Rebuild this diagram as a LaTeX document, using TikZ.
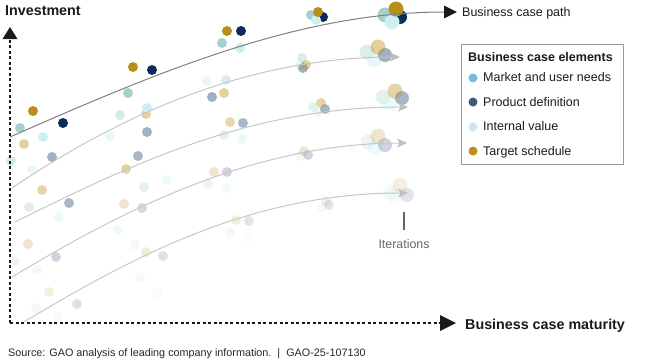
\documentclass[tikz,border=0pt]{standalone}
\usepackage{fontspec}
\setmainfont{Liberation Sans}
\usetikzlibrary{arrows.meta}
\definecolor{gold}{RGB}{186,142,26}
\definecolor{navy}{RGB}{12,44,94}
\definecolor{teal}{RGB}{163,209,207}
\definecolor{cyan}{RGB}{205,239,242}
\definecolor{mkt}{RGB}{116,188,228}
\definecolor{prod}{RGB}{62,91,115}
\definecolor{intv}{RGB}{201,228,243}
\definecolor{tgt}{RGB}{188,144,22}
\definecolor{ink}{RGB}{26,26,26}
\newcommand\mydot[5]{\fill[#1,fill opacity=#2] (#3,#4) circle (#5pt);}
\begin{document}
\begin{tikzpicture}[x=1pt,y=-1pt,
  mainpath/.style={draw=black!50,line width=1pt,-{Triangle[length=13pt,width=12.5pt,color=ink]}},
  iterpath/.style={draw=black!22,line width=1pt,-{Stealth[length=10pt,width=9pt,inset=2.5pt,color=black!25]}},
  axis/.style={draw=ink,line width=2pt,dash pattern=on 3pt off 2.5pt},
  axtip/.style={fill=ink},
  lbl/.style={inner sep=0pt,anchor=base west,text=ink},
  boldlbl/.style={lbl,font=\fontsize{14.3}{17}\selectfont\bfseries},
  leglbl/.style={lbl,font=\fontsize{12.5}{15}\selectfont},
  legbox/.style={draw=black!40,line width=1pt,inner sep=0pt,minimum width=162pt,minimum height=120pt,anchor=north west}
]
\useasboundingbox (0,0) rectangle (650,360);

% ---- row 5 (faintest)
\mydot{teal}{0.14}{36}{308}{5}
\mydot{cyan}{0.2}{58}{317}{5}
\mydot{gold}{0.14}{49}{292}{5}
\mydot{navy}{0.14}{77}{304}{5}
\mydot{cyan}{0.25}{135}{245}{5}
\mydot{teal}{0.14}{140}{277}{5}
\mydot{gold}{0.16}{146}{252}{5}
\mydot{navy}{0.14}{163}{256}{5}
\mydot{cyan}{0.2}{157}{293}{5}
\mydot{teal}{0.14}{230}{233}{5}
\mydot{cyan}{0.2}{248}{237}{5}
\mydot{gold}{0.14}{236}{220}{5}
\mydot{navy}{0.12}{249}{221}{5}
\mydot{cyan}{0.25}{322}{207}{5}
\mydot{navy}{0.12}{329}{205}{5}
\mydot{gold}{0.14}{326}{201}{5}
\mydot{teal}{0.14}{390}{192}{7.5}
\mydot{cyan}{0.2}{395}{197}{7.5}
\mydot{navy}{0.12}{407}{195}{7}
\mydot{gold}{0.14}{400}{185}{7.5}

% ---- row 4
\mydot{teal}{0.22}{15}{261}{5}
\mydot{cyan}{0.3}{37}{270}{5}
\mydot{gold}{0.22}{28}{244}{5}
\mydot{navy}{0.2}{56}{257}{5}
\mydot{cyan}{0.3}{118}{230}{5}
\mydot{gold}{0.22}{124}{204}{5}
\mydot{navy}{0.18}{142}{208}{5}
\mydot{teal}{0.22}{208}{184}{5}
\mydot{cyan}{0.3}{227}{188}{5}
\mydot{gold}{0.22}{214}{172}{5}
\mydot{navy}{0.2}{227}{172}{5}
\mydot{cyan}{0.3}{300}{156}{5}
\mydot{navy}{0.2}{308}{155}{5}
\mydot{gold}{0.22}{304}{151}{5}
\mydot{teal}{0.22}{368}{142}{7.5}
\mydot{cyan}{0.3}{375}{148}{7.5}
\mydot{navy}{0.2}{385}{145}{7}
\mydot{gold}{0.22}{378}{136}{7.5}

% ---- row 3
\mydot{teal}{0.35}{29}{207}{5}
\mydot{cyan}{0.4}{59}{217}{5}
\mydot{gold}{0.38}{42}{190}{5}
\mydot{navy}{0.35}{69}{203}{5}
\mydot{teal}{0.3}{144}{187}{5}
\mydot{cyan}{0.35}{167}{180}{5}
\mydot{gold}{0.4}{126}{169}{5}
\mydot{navy}{0.35}{138}{156}{5}
\mydot{teal}{0.3}{224}{135}{5}
\mydot{cyan}{0.4}{242}{139}{5}
\mydot{gold}{0.35}{230}{122}{5}
\mydot{navy}{0.35}{243}{123}{5}
\mydot{teal}{0.3}{313}{107}{5}
\mydot{cyan}{0.4}{318}{112}{5}
\mydot{navy}{0.35}{325}{109}{5}
\mydot{gold}{0.38}{321}{103}{5}
\mydot{teal}{0.3}{383}{97}{7.5}
\mydot{cyan}{0.4}{390}{103}{7.5}
\mydot{navy}{0.35}{402}{98}{7}
\mydot{gold}{0.38}{395}{91}{7.5}

% ---- row 2
\mydot{teal}{0.45}{11}{161}{5}
\mydot{cyan}{0.45}{32}{170}{5}
\mydot{gold}{0.42}{24}{144}{5}
\mydot{navy}{0.38}{52}{157}{5}
\mydot{teal}{0.45}{120}{115}{5}
\mydot{cyan}{0.45}{110}{136}{5}
\mydot{gold}{0.42}{146}{114}{5}
\mydot{navy}{0.38}{147}{132}{5}
\mydot{cyan}{0.45}{207}{81}{5}
\mydot{teal}{0.4}{226}{80}{5}
\mydot{navy}{0.38}{212}{97}{5}
\mydot{gold}{0.42}{224}{93}{5}
\mydot{teal}{0.4}{302}{58}{5}
\mydot{cyan}{0.45}{300}{65}{5}
\mydot{navy}{0.38}{303}{68}{5}
\mydot{gold}{0.42}{306}{65}{5}
\mydot{teal}{0.4}{367}{52}{7.5}
\mydot{cyan}{0.45}{374}{60}{7.5}
\mydot{navy}{0.38}{385}{55}{7}
\mydot{gold}{0.42}{378}{47}{7.5}

% ---- row 1 (main path)
\mydot{teal}{1}{20}{128}{5}
\mydot{cyan}{1}{43}{137}{5}
\mydot{gold}{1}{33}{111}{5}
\mydot{navy}{1}{63}{123}{5}
\mydot{teal}{1}{128}{93}{5}
\mydot{cyan}{1}{147}{108}{5}
\mydot{gold}{1}{133}{67}{5}
\mydot{navy}{1}{152}{70}{5}
\mydot{teal}{1}{222}{43}{5}
\mydot{cyan}{1}{240}{48}{5}
\mydot{gold}{1}{227}{31}{5}
\mydot{navy}{1}{241}{31}{5}
\mydot{teal}{1}{311}{15}{5}
\mydot{navy}{1}{323}{17}{5}
\mydot{cyan}{1}{316}{20}{5}
\mydot{gold}{1}{318}{12}{5}
\mydot{teal}{1}{385}{15}{7.5}
\mydot{navy}{1}{400}{17}{7}
\mydot{cyan}{1}{392}{22}{7.5}
\mydot{gold}{1}{396}{9}{7.5}

% ---- iteration curves
\coordinate (c2s) at (12,188);  \coordinate (c2e) at (400,57);
\coordinate (c3s) at (15,222);  \coordinate (c3e) at (408,107);
\coordinate (c4s) at (12,277);  \coordinate (c4e) at (407,143);
\coordinate (c5s) at (22,323);  \coordinate (c5e) at (408,193);
\draw[iterpath] (c2s) .. controls (110,122) and (240,57) .. (c2e);
\draw[iterpath] (c3s) .. controls (130,165) and (250,107) .. (c3e);
\draw[iterpath] (c4s) .. controls (115,215) and (250,143) .. (c4e);
\draw[iterpath] (c5s) .. controls (125,262) and (245,193) .. (c5e);

% ---- main business case path
\coordinate (ms) at (10,137);
\coordinate (me) at (457,12);
\draw[mainpath] (ms) .. controls (160,71) and (300,12) .. (me);
\node[leglbl] (pathlbl) at (462,16.5) {Business case path};

% ---- axes
\coordinate (orig) at (10,323);
\coordinate (ytop) at (10,39);
\coordinate (xend) at (440,323);
\draw[axis] (orig) -- (ytop);
\draw[axis] (orig) -- (xend);
\fill[axtip] (2.5,39) -- (10,27) -- (17.5,39) -- cycle;
\fill[axtip] (440,315) -- (456,323) -- (440,331) -- cycle;
\node[boldlbl] (ylbl) at (5,15) {Investment};
\node[boldlbl] (xlbl) at (465,329) {Business case maturity};

% ---- iterations marker
\coordinate (itA) at (404,212);
\coordinate (itB) at (404,230);
\draw[draw=black!60,line width=1.5pt] (itA) -- (itB);
\node[lbl,anchor=base,text=black!60,font=\fontsize{12.4}{15}\selectfont] (iterlbl) at (404,248) {Iterations};

% ---- legend
\node[legbox] (leg) at (461,44) {};
\node[lbl,font=\fontsize{12.5}{15}\selectfont\bfseries] (legt) at (468,61.5) {Business case elements};
\fill[mkt] (473,78) circle (4.5pt);
\node[leglbl] (l1) at (483,81.6) {Market and user needs};
\fill[prod] (473,102) circle (4.5pt);
\node[leglbl] (l2) at (483,106.3) {Product definition};
\fill[intv] (473,127) circle (4.5pt);
\node[leglbl] (l3) at (483,130.7) {Internal value};
\fill[tgt] (473,151) circle (4.5pt);
\node[leglbl] (l4) at (483,155) {Target schedule};

% ---- source
\node[lbl,text=black!85,font=\fontsize{10.8}{13}\selectfont] (src) at (8,356.7) {Source: GAO analysis of leading company information.\hspace{6pt}|\hspace{6pt}GAO-25-107130};
\end{tikzpicture}
\end{document}
